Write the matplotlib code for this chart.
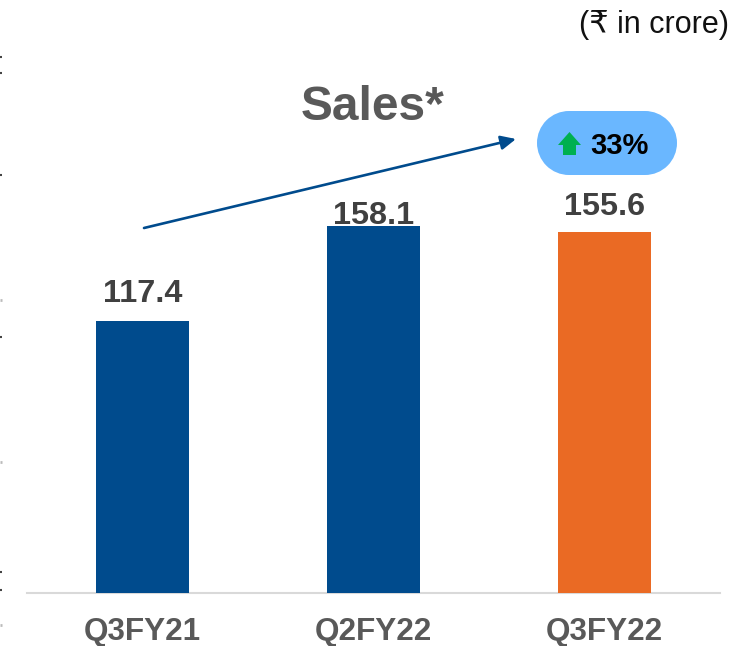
import matplotlib
matplotlib.use("Agg")
import matplotlib.pyplot as plt
from matplotlib.patches import Circle, Rectangle, Polygon

categories = ["Q3FY21", "Q2FY22", "Q3FY22"]
sales = [117.4, 158.1, 155.6]
bar_colors = ["#004B8D", "#004B8D", "#EA6A24"]
title = "Sales*"
unit = "(₹ in crore)"
growth = "33%"
label_offsets_px = [30, 14, 28.5]

plt.rcParams['font.family'] = ['Liberation Sans', 'DejaVu Sans']
W, H = 743, 646
fig = plt.figure(figsize=(W/100, H/100), dpi=100, facecolor='white')

x0, x1, base = 27, 720, 593
ax = fig.add_axes([x0/W, 1-base/H, (x1-x0)/W, base/H])
ax.set_xlim(-0.5, 2.5)
ax.set_ylim(0, base/2.32)
ax.patch.set_alpha(0)
ax.bar(range(3), sales, width=0.4026, color=bar_colors, zorder=3)
for s in ['top', 'left', 'right']:
    ax.spines[s].set_visible(False)
ax.spines['bottom'].set_color('#D9D9D9')
ax.spines['bottom'].set_linewidth(1.5)
ax.set_yticks([])
ax.set_xticks(range(3))
ax.set_xticklabels(categories, fontsize=22.7, fontweight='bold', color='#595959')
ax.tick_params(axis='x', length=0, pad=17.5)
for i, v in enumerate(sales):
    ax.annotate(f"{v}", (i, v), xytext=(0, label_offsets_px[i]*0.72), textcoords='offset points',
                ha='center', va='center_baseline', fontsize=23.3, fontweight='bold', color='#404040',
                zorder=4)

# overlay in pixel coordinates
ov = fig.add_axes([0, 0, 1, 1])
ov.set_xlim(0, W)
ov.set_ylim(H, 0)
ov.axis('off')
ov.patch.set_alpha(0)

ov.text(373, 102, title, ha='center', va='center_baseline', fontsize=34.5, fontweight='bold', color='#595959')
ov.text(729, 25, unit, ha='right', va='center', fontsize=22, color='#111111')

ov.annotate("", xy=(516, 139), xytext=(144, 228),
            arrowprops=dict(arrowstyle='-|>,head_length=0.9,head_width=0.42', color='#004B8D', lw=1.9,
                            shrinkA=0, shrinkB=0))

pill = '#6AB7FF'
ov.add_patch(Rectangle((569, 111), 76, 64, fc=pill, ec='none'))
ov.add_patch(Circle((569, 143), 32, fc=pill, ec='none'))
ov.add_patch(Circle((645, 143), 32, fc=pill, ec='none'))
ov.add_patch(Polygon([(569.5, 132), (581, 145), (576, 145), (576, 155), (563, 155), (563, 145), (558, 145)],
                     closed=True, fc='#00B050', ec='none'))
ov.text(619, 143, growth, ha='center', va='center_baseline', fontsize=21, fontweight='bold', color='black')

# clipped remnants at the left edge
for y in [57, 73, 175, 337, 572, 590]:
    ov.plot([0, 2], [y, y], color='#444444', lw=1.5, solid_capstyle='butt')
for y in [300, 462, 625]:
    ov.plot([0, 1.5], [y, y], color='#BBBBBB', lw=2, solid_capstyle='butt')

fig.savefig("out.png", dpi=100)
